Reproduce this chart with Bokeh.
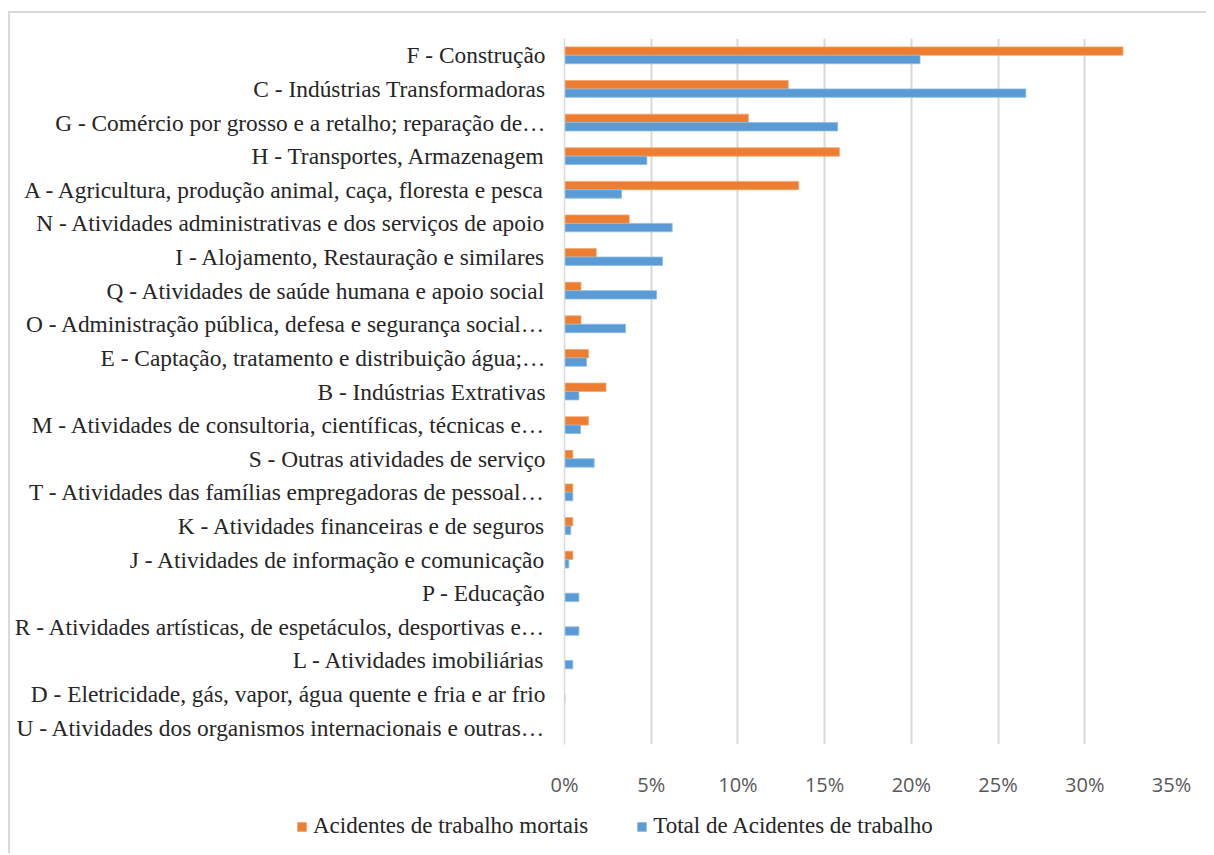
from bokeh.plotting import figure
from bokeh.models import FactorRange, Range1d, Legend, LegendItem, ColumnDataSource, FixedTicker
from bokeh.transform import dodge
from bokeh.embed import file_html
from bokeh.resources import INLINE

categories = [
    "F - Construção",
    "C - Indústrias Transformadoras",
    "G - Comércio por grosso e a retalho; reparação de…",
    "H - Transportes, Armazenagem",
    "A - Agricultura, produção animal, caça, floresta e pesca",
    "N - Atividades administrativas e dos serviços de apoio",
    "I - Alojamento, Restauração e similares",
    "Q - Atividades de saúde humana e apoio social",
    "O - Administração pública, defesa e segurança social…",
    "E - Captação, tratamento e distribuição água;…",
    "B - Indústrias Extrativas",
    "M - Atividades de consultoria, científicas, técnicas e…",
    "S - Outras atividades de serviço",
    "T - Atividades das famílias empregadoras de pessoal…",
    "K - Atividades financeiras e de seguros",
    "J - Atividades de informação e comunicação",
    "P - Educação",
    "R - Atividades artísticas, de espetáculos, desportivas e…",
    "L - Atividades imobiliárias",
    "D - Eletricidade, gás, vapor, água quente e fria e ar frio",
    "U - Atividades dos organismos internacionais e outras…",
]
mortais = [32.2, 12.9, 10.6, 15.85, 13.5, 3.73, 1.83, 0.95, 0.95, 1.38, 2.39,
           1.38, 0.48, 0.48, 0.48, 0.48, 0.0, 0.0, 0.0, 0.0, 0.0]
total = [20.5, 26.6, 15.75, 4.75, 3.29, 6.21, 5.65, 5.31, 3.52, 1.27, 0.83,
         0.92, 1.71, 0.48, 0.36, 0.25, 0.83, 0.83, 0.48, 0.03, 0.0]
series_names = ["Acidentes de trabalho mortais", "Total de Acidentes de trabalho"]
x_ticks = [0, 5, 10, 15, 20, 25, 30, 35]
x_tick_labels = ["0%", "5%", "10%", "15%", "20%", "25%", "30%", "35%"]

ORANGE = "#ED7D31"
BLUE = "#5B9BD5"
GRID = "#D9D9D9"
ORANGE_EDGE = "#F4A46E"
BLUE_EDGE = "#8DBCE6"

source = ColumnDataSource(dict(cat=categories, mortais=mortais, total=total))

p = figure(
    width=1198, height=787,
    y_range=FactorRange(factors=list(reversed(categories)), range_padding=0),
    x_range=Range1d(0, 35),
    output_backend="svg", toolbar_location=None,
    min_border_left=554, min_border_right=37,
    min_border_top=25, min_border_bottom=55,
)
p.margin = (11, 0, 0, 8)
p.styles = {"border-top": "2px solid #D9D9D9", "border-left": "2px solid #D9D9D9"}
p.outline_line_color = None
p.background_fill_color = "white"
p.border_fill_color = "white"

p.hbar(y=dodge("cat", 0.125, range=p.y_range), right="mortais", left=0,
       height=0.25, source=source, fill_color=ORANGE,
       line_color=ORANGE_EDGE, line_width=0.8)
p.hbar(y=dodge("cat", -0.125, range=p.y_range), right="total", left=0,
       height=0.25, source=source, fill_color=BLUE,
       line_color=BLUE_EDGE, line_width=0.8)

# grid
p.ygrid.grid_line_color = None
p.xgrid.grid_line_color = GRID
p.xgrid.grid_line_width = 2
p.xgrid.ticker = FixedTicker(ticks=x_ticks)

# x axis
p.xaxis.ticker = FixedTicker(ticks=x_ticks)
p.xaxis.major_label_overrides = {t: l for t, l in zip(x_ticks, x_tick_labels)}
p.xaxis.axis_line_color = None
p.xaxis.major_tick_line_color = None
p.xaxis.minor_tick_line_color = None
p.xaxis.major_label_text_font = "Open Sans"
p.xaxis.major_label_text_font_size = "20px"
p.xaxis.major_label_text_color = "#595959"
p.xaxis.major_label_standoff = 20

# y axis
p.yaxis.axis_line_color = GRID
p.yaxis.axis_line_width = 1.5
p.yaxis.major_tick_line_color = None
p.yaxis.minor_tick_line_color = None
p.yaxis.major_label_text_font = "Liberation Serif"
p.yaxis.major_label_text_font_size = "23.4px"
p.yaxis.major_label_text_color = "#262626"
p.yaxis.major_label_standoff = 13

# legend strip below the chart: same series, renderers hidden, only keys shown
q = figure(width=1198, height=55,
           y_range=FactorRange(factors=list(reversed(categories)), range_padding=0),
           x_range=Range1d(0, 35),
           x_axis_location=None, y_axis_location=None,
           output_backend="svg", toolbar_location=None,
           min_border_left=0, min_border_right=0, min_border_top=0, min_border_bottom=0)
q.margin = (0, 0, 0, 8)
q.styles = {"border-left": "2px solid #D9D9D9"}
q.grid.visible = False
q.outline_line_color = None
q.border_fill_color = "white"
k1 = q.hbar(y="cat", right="mortais", left=0, height=0.25, source=source,
            fill_color=ORANGE, line_color=ORANGE_EDGE, visible=False)
k2 = q.hbar(y="cat", right="total", left=0, height=0.25, source=source,
            fill_color=BLUE, line_color=BLUE_EDGE, visible=False)

legend = Legend(
    items=[LegendItem(label=series_names[0], renderers=[k1]),
           LegendItem(label=series_names[1], renderers=[k2])],
    orientation="horizontal", location=(286, 14),
    glyph_width=11, glyph_height=11, label_standoff=6, spacing=48,
    padding=0, margin=0, border_line_color=None, background_fill_alpha=0,
    inactive_fill_alpha=0,
    label_text_font="Liberation Serif", label_text_font_size="23px",
    label_text_color="#262626",
)
q.add_layout(legend)

open("out.html", "w").write(file_html([p, q], INLINE))
